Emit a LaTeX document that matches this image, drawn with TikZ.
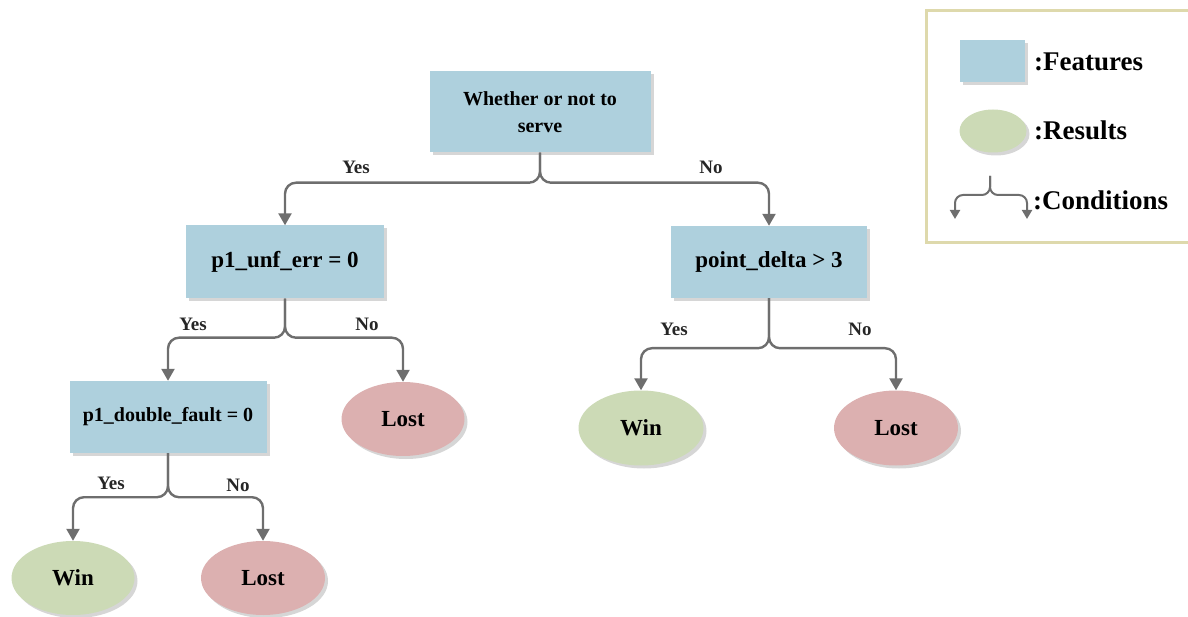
\documentclass[tikz,border=0pt]{standalone}
\usepackage{fontspec}
\setmainfont{Liberation Serif}
\usetikzlibrary{arrows.meta,shadows,shapes.geometric}
\definecolor{featc}{RGB}{174,208,221}
\definecolor{winc}{RGB}{204,218,182}
\definecolor{lostc}{RGB}{220,176,176}
\definecolor{connc}{RGB}{110,110,110}
\definecolor{legc}{RGB}{222,217,172}
\tikzset{
  shad/.style={drop shadow={shadow xshift=3pt,shadow yshift=-3pt,opacity=0.16,fill=black}},
  feat/.style={rectangle,fill=featc,draw=none,shad,align=center,inner sep=2pt,font=\bfseries\fontsize{23}{26}\selectfont},
  winres/.style={ellipse,fill=winc,draw=none,shad,inner sep=0pt,font=\bfseries\fontsize{23}{26}\selectfont},
  lostres/.style={ellipse,fill=lostc,draw=none,shad,inner sep=0pt,font=\bfseries\fontsize{23}{26}\selectfont},
  conn/.style={draw=connc,line width=2.4pt,rounded corners=11pt,-{Triangle[width=13pt,length=12pt]}},
  lbl/.style={font=\bfseries\fontsize{19}{22}\selectfont,text=black!85,inner sep=0pt},
  legtxt/.style={font=\bfseries\fontsize{27}{30}\selectfont,anchor=west,inner sep=0pt}
}
\begin{document}
\begin{tikzpicture}[x=1pt,y=-1pt]
\useasboundingbox (0,0) rectangle (1188,617);
% feature nodes
\node[feat,minimum width=221pt,minimum height=81pt,font=\bfseries\fontsize{20}{27}\selectfont] (root) at (540,112) {Whether or not to\\serve};
\node[feat,minimum width=198pt,minimum height=73pt] (pu) at (285,262) {p1\_unf\_err = 0};
\node[feat,minimum width=196pt,minimum height=72pt] (pd) at (769,262) {point\_delta > 3};
\node[feat,minimum width=197pt,minimum height=72pt,font=\bfseries\fontsize{20}{23}\selectfont] (pdf) at (168,417) {p1\_double\_fault = 0};
% result nodes
\node[lostres,minimum width=123pt,minimum height=74pt] (lost1) at (403,419) {Lost};
\node[winres,minimum width=125pt,minimum height=75pt] (win2) at (641,428) {Win};
\node[lostres,minimum width=124pt,minimum height=75pt] (lost2) at (896,428) {Lost};
\node[winres,minimum width=123pt,minimum height=74pt] (win3) at (73,578) {Win};
\node[lostres,minimum width=124pt,minimum height=74pt] (lost3) at (263,578) {Lost};
% connectors
\draw[conn] (root.south) -- ([yshift=-30pt]root.south) -| (pu.north);
\draw[conn] (root.south) -- ([yshift=-30pt]root.south) -| (pd.north);
\draw[conn] (pu.south) -- ([yshift=-39pt]pu.south) -| (pdf.north);
\draw[conn] (pu.south) -- ([yshift=-39pt]pu.south) -| (lost1.north);
\draw[conn] (pd.south) -- ([yshift=-50pt]pd.south) -| (win2.north);
\draw[conn] (pd.south) -- ([yshift=-50pt]pd.south) -| (lost2.north);
\draw[conn] (pdf.south) -- ([yshift=-44pt]pdf.south) -| (win3.north);
\draw[conn] (pdf.south) -- ([yshift=-44pt]pdf.south) -| (lost3.north);
% labels
\node[lbl] (y1) at (356,167) {Yes};
\node[lbl] (n1) at (711,167) {No};
\node[lbl] (y2) at (193,324) {Yes};
\node[lbl] (n2) at (367,324) {No};
\node[lbl] (y3) at (674,329) {Yes};
\node[lbl] (n3) at (860,329) {No};
\node[lbl] (y4) at (111,483) {Yes};
\node[lbl] (n4) at (238,485) {No};
% legend
\draw[draw=legc,line width=3pt] (926,11) rectangle (1194,243);
\node[rectangle,fill=featc,shad,minimum width=65pt,minimum height=42pt,inner sep=0pt] (legf) at (992,61) {};
\node[legtxt] (legft) at (1034,62) {:Features};
\node[ellipse,fill=winc,shad,minimum width=67pt,minimum height=43pt,inner sep=0pt] (legr) at (993,131) {};
\node[legtxt] (legrt) at (1034,130) {:Results};
\coordinate (cs) at (990,176);
\coordinate (cj) at (990,195);
\coordinate (cl) at (955,219);
\coordinate (cr) at (1027,219);
\draw[draw=connc,line width=2pt,rounded corners=8pt,-{Triangle[width=10pt,length=9pt]}] (cs) -- (cj) -| (cl);
\draw[draw=connc,line width=2pt,rounded corners=8pt,-{Triangle[width=10pt,length=9pt]}] (cs) -- (cj) -| (cr);
\node[legtxt] (legct) at (1033,200) {:Conditions};
\end{tikzpicture}
\end{document}
